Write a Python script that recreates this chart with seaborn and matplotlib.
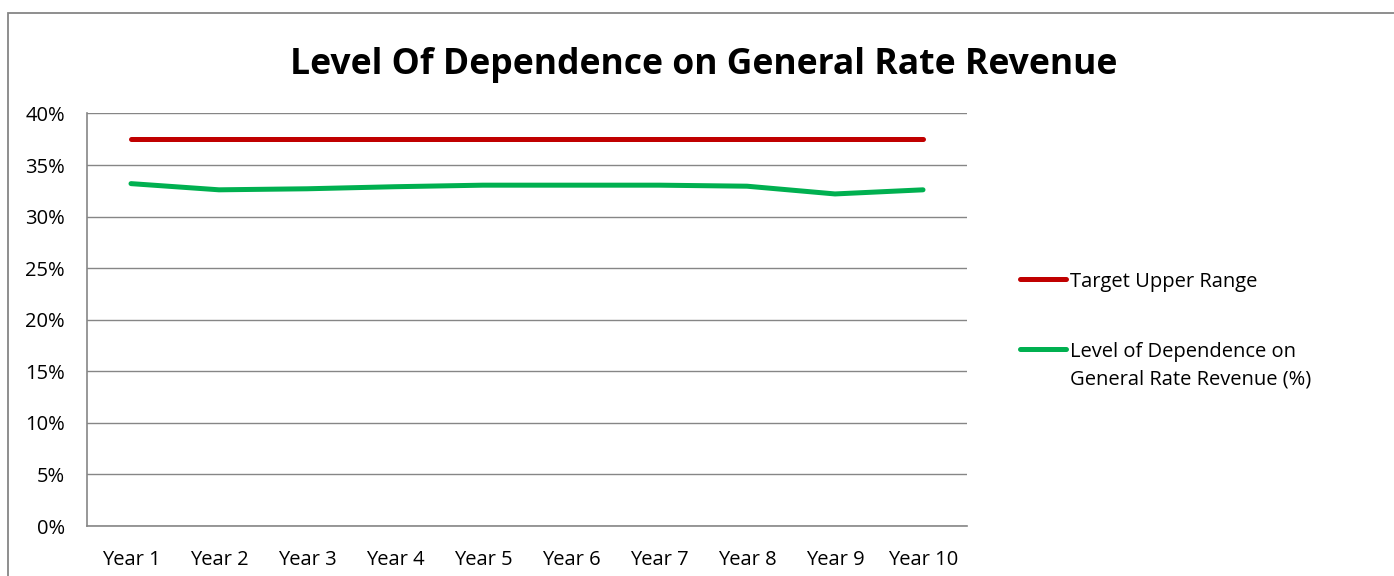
import matplotlib
matplotlib.use("Agg")
import matplotlib.pyplot as plt
import matplotlib.patches as mpatches
import matplotlib.lines as mlines
import numpy as np
import pandas as pd
import seaborn as sns

years = ["Year 1", "Year 2", "Year 3", "Year 4", "Year 5",
         "Year 6", "Year 7", "Year 8", "Year 9", "Year 10"]
target_upper = [37.5, 37.5, 37.5, 37.5, 37.5, 37.5, 37.5, 37.5, 37.5, 37.5]
dependence = [33.2, 32.6, 32.7, 32.9, 33.05, 33.05, 33.05, 32.95, 32.2, 32.6]
series_names = ["Target Upper Range",
                "Level of Dependence on\nGeneral Rate Revenue (%)"]
series_colors = ["#C00000", "#00B050"]
y_ticks = [0, 5, 10, 15, 20, 25, 30, 35, 40]

df = pd.DataFrame({
    "Year": years * 2,
    "idx": list(range(len(years))) * 2,
    "Value": target_upper + dependence,
    "Series": [series_names[0]] * len(years) + [series_names[1]] * len(years),
})

sns.set_theme(style="white")
plt.rcParams["font.family"] = ["Open Sans", "DejaVu Sans"]

W, H = 1394, 576
fig = plt.figure(figsize=(W / 100, H / 100), dpi=100)
ax = fig.add_axes([87 / W, 50 / H, 880 / W, 412.5 / H])

sns.lineplot(data=df, x="idx", y="Value", hue="Series",
             palette=dict(zip(series_names, series_colors)),
             linewidth=3.6, ax=ax, legend=False,
             solid_capstyle="round", solid_joinstyle="round")

ax.set_xlim(-0.5, len(years) - 0.5)
ax.set_ylim(0, 40)
ax.set_yticks(y_ticks)
ax.set_yticklabels([f"{v}%" for v in y_ticks], fontsize=14.5, color="#000000")
ax.set_xticks(np.arange(len(years)))
ax.set_xticklabels(years, fontsize=14.5, color="#000000")
ax.set_xticks(np.arange(len(years) + 1) - 0.5, minor=True)
ax.tick_params(axis="x", which="major", length=0, pad=17)
ax.tick_params(axis="x", which="minor", length=6, width=1, color="#868686",
               direction="out")
ax.tick_params(axis="y", which="major", length=7, width=1, color="#868686",
               direction="out", pad=9)
ax.set_xlabel("")
ax.set_ylabel("")

ax.yaxis.grid(True, color="#868686", linewidth=1)
ax.xaxis.grid(False)
ax.set_axisbelow(True)
for side in ["top", "right"]:
    ax.spines[side].set_visible(False)
for side in ["left", "bottom"]:
    ax.spines[side].set_color("#868686")
    ax.spines[side].set_linewidth(1.2)

# Title
fig.text(704 / W, 1 - 65 / H, "Level Of Dependence on General Rate Revenue",
         ha="center", va="center", fontsize=25.6, fontweight="bold", color="#000000")

# Legend: handle line followed by its label, first text line level with the handle
legend_rows = [279, 349]
for name, color, yrow in zip(series_names, series_colors, legend_rows):
    fig.add_artist(mlines.Line2D([1020 / W, 1066 / W], [1 - yrow / H, 1 - yrow / H],
                                 transform=fig.transFigure, color=color,
                                 linewidth=3.6, solid_capstyle="round"))
    fig.text(1070 / W, 1 - (yrow - 7) / H, name, ha="left", va="top",
             fontsize=14.5, color="#000000", linespacing=1.5)

# Outer chart border
fig.patches.append(mpatches.Rectangle((8 / W, -0.1), 1.2, 1 - 13 / H + 0.1,
                                      transform=fig.transFigure, fill=False,
                                      edgecolor="#868686", linewidth=1.3))

fig.savefig("out.png", dpi=100)
